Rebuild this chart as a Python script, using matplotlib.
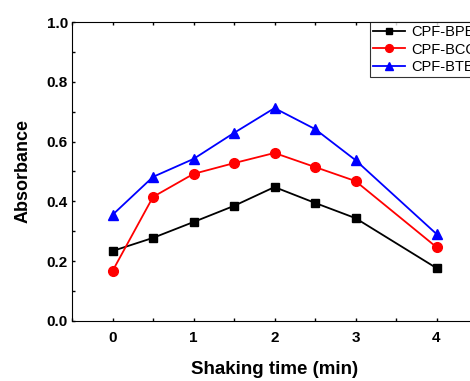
import matplotlib.pyplot as plt
from matplotlib.ticker import MultipleLocator

plt.rcParams['font.family'] = ['Liberation Sans', 'DejaVu Sans']

time_min = [0, 0.5, 1, 1.5, 2, 2.5, 3, 4]
cpf_bpb = [0.234, 0.278, 0.331, 0.385, 0.448, 0.395, 0.344, 0.177]
cpf_bcc = [0.167, 0.415, 0.492, 0.528, 0.562, 0.515, 0.468, 0.247]
cpf_btb = [0.355, 0.482, 0.542, 0.629, 0.712, 0.642, 0.538, 0.291]
labels = ["CPF-BPB", "CPF-BCC", "CPF-BTB"]

fig = plt.figure(figsize=(4.7, 3.81), dpi=100)
ax = fig.add_axes([72 / 470, 1 - 321 / 381, 405 / 470, 299 / 381])

ax.plot(time_min, cpf_bpb, color='black', marker='s', markersize=6, linewidth=1.3, label=labels[0])
ax.plot(time_min, cpf_bcc, color='red', marker='o', markersize=7, linewidth=1.3, label=labels[1])
ax.plot(time_min, cpf_btb, color='blue', marker='^', markersize=7, linewidth=1.3, label=labels[2])

ax.set_xlim(-0.5, 4.5)
ax.set_ylim(0, 1.0)
ax.xaxis.set_major_locator(MultipleLocator(1))
ax.xaxis.set_minor_locator(MultipleLocator(0.5))
ax.yaxis.set_major_locator(MultipleLocator(0.2))
ax.yaxis.set_minor_locator(MultipleLocator(0.1))
ax.tick_params(which='major', direction='out', length=5, width=1, labelsize=11)
ax.tick_params(which='minor', direction='out', length=3, width=1)
ax.tick_params(axis='x', which='major', pad=7)
ax.tick_params(axis='y', which='major', pad=3)
ax.tick_params(top=True, which='both', direction='in', length=2)
ax.set_xticks([0, 1, 2, 3, 4])
ax.set_xticklabels(['0', '1', '2', '3', '4'], fontweight='bold')
ax.set_yticks([0, 0.2, 0.4, 0.6, 0.8, 1.0])
ax.set_yticklabels(['0.0', '0.2', '0.4', '0.6', '0.8', '1.0'], fontweight='bold')

ax.set_xlabel("Shaking time (min)", fontsize=13.5, fontweight='bold', labelpad=12)
ax.set_ylabel("Absorbance", fontsize=13, fontweight='bold', labelpad=11)

leg = ax.legend(loc='upper left', bbox_to_anchor=((370 - 72) / 405, 1.0), borderaxespad=0,
                fontsize=10.5, frameon=True, fancybox=False, edgecolor='black',
                handlelength=2.2, labelspacing=0.25, markerscale=0.8, borderpad=0.2,
                handletextpad=0.4)
leg.get_frame().set_linewidth(0.8)

fig.savefig("out.png", dpi=100)
